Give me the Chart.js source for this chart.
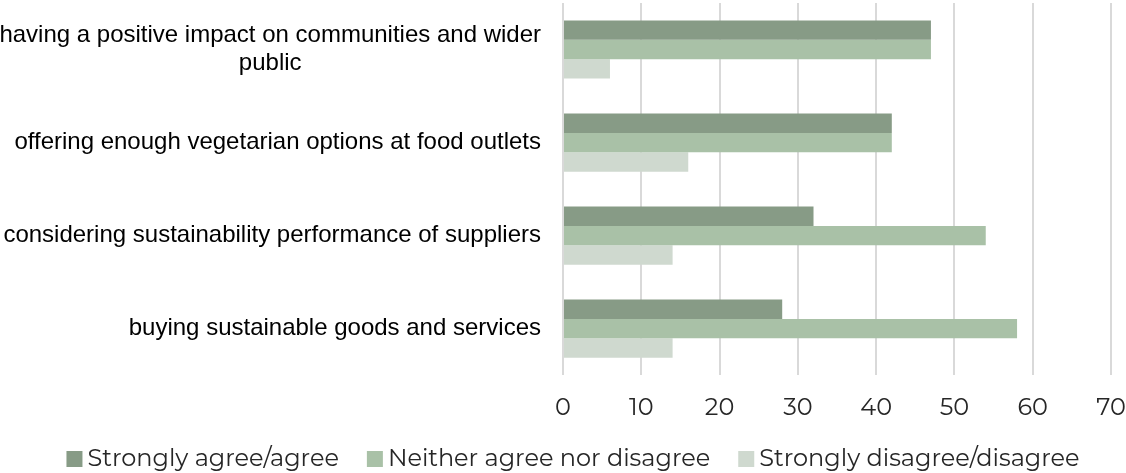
<!DOCTYPE html>
<html>
<head>
<meta charset="utf-8">
<script src="https://cdn.jsdelivr.net/npm/chart.js@4/dist/chart.umd.min.js"></script>
<style>
  html, body { margin: 0; padding: 0; background: #fff; }
  #wrap { width: 1126px; height: 473px; }
</style>
</head>
<body>
<div id="wrap"><canvas id="chartPractices"></canvas></div>
<script>
// Categories (multi-line where the label wraps)
const categories = [
    ['having a positive impact on communities and wider', 'public'],
    ['offering enough vegetarian options at food outlets'],
    ['considering sustainability performance of suppliers'],
    ['buying sustainable goods and services']
];
const seriesNames = ['Strongly agree/agree', 'Neither agree nor disagree', 'Strongly disagree/disagree'];
const agreeValues = [47, 42, 32, 28];
const neitherValues = [47, 42, 54, 58];
const disagreeValues = [6, 16, 14, 14];
const xTicks = [0, 10, 20, 30, 40, 50, 60, 70];

const colors = ['#879b86', '#a9c1a7', '#cfd9cf'];
const tickFont = 'Montserrat, "DejaVu Sans", sans-serif';

// Category labels: right-aligned block, each line centered inside it
const categoryLabels = {
    id: 'categoryLabels',
    afterDraw(chart) {
        const ctx = chart.ctx;
        const yScale = chart.scales.y;
        const right = chart.chartArea.left - 22;
        const lineHeight = 28;
        ctx.save();
        ctx.font = '24px "Liberation Sans", Arial, sans-serif';
        ctx.fillStyle = '#000';
        ctx.textBaseline = 'middle';
        ctx.textAlign = 'center';
        categories.forEach((lines, i) => {
            const cy = yScale.getPixelForTick(i);
            const w = Math.max(...lines.map(l => ctx.measureText(l).width));
            const cx = right - w / 2;
            const top = cy - (lines.length - 1) * lineHeight / 2;
            lines.forEach((l, j) => ctx.fillText(l, cx, top + j * lineHeight));
        });
        ctx.restore();
    }
};

// Bottom legend with a tight box/text gap
const bottomLegend = {
    id: 'bottomLegend',
    afterDraw(chart) {
        const ctx = chart.ctx;
        const box = 16, gap = 5, itemGap = 28;
        const y = 459;
        ctx.save();
        ctx.font = '24px ' + tickFont;
        ctx.textBaseline = 'middle';
        const items = chart.data.datasets.map(ds => ({
            text: ds.label, color: ds.backgroundColor, w: ctx.measureText(ds.label).width
        }));
        const total = items.reduce((s, it) => s + box + gap + it.w, 0) + itemGap * (items.length - 1);
        let x = chart.width / 2 + 10 - total / 2;
        items.forEach(it => {
            ctx.fillStyle = it.color;
            ctx.fillRect(x, y - box / 2, box, box);
            ctx.fillStyle = '#262626';
            ctx.textAlign = 'left';
            ctx.fillText(it.text, x + box + gap, y);
            x += box + gap + it.w + itemGap;
        });
        ctx.restore();
    }
};

const ctxPractices = document.getElementById('chartPractices').getContext('2d');
new Chart(ctxPractices, {
    type: 'bar',
    data: {
        labels: categories.map(c => c.join(' ')),
        datasets: [
            { label: seriesNames[0], data: agreeValues, backgroundColor: colors[0] },
            { label: seriesNames[1], data: neitherValues, backgroundColor: colors[1] },
            { label: seriesNames[2], data: disagreeValues, backgroundColor: colors[2] }
        ]
    },
    options: {
        indexAxis: 'y',
        responsive: true,
        maintainAspectRatio: false,
        animation: false,
        categoryPercentage: 0.625,
        barPercentage: 1.0,
        layout: { padding: { top: 3, right: 15, bottom: 33, left: 0 } },
        plugins: {
            tooltip: { enabled: false },
            legend: { display: false }
        },
        scales: {
            x: {
                min: 0,
                max: 70,
                afterBuildTicks(scale) {
                    scale.ticks = xTicks.map(v => ({ value: v }));
                },
                afterFit(scale) {
                    scale.paddingLeft = 0;
                    scale.paddingRight = 0;
                },
                border: { display: false },
                grid: { color: '#d9d9d9', lineWidth: 2, drawTicks: false },
                ticks: {
                    color: '#262626',
                    padding: 18,
                    maxRotation: 0,
                    font: { family: tickFont, size: 24 }
                }
            },
            y: {
                border: { display: false },
                grid: { display: false },
                ticks: { display: false },
                afterFit(scale) { scale.width = 563; }
            }
        }
    },
    plugins: [categoryLabels, bottomLegend]
});
</script>
</body>
</html>
